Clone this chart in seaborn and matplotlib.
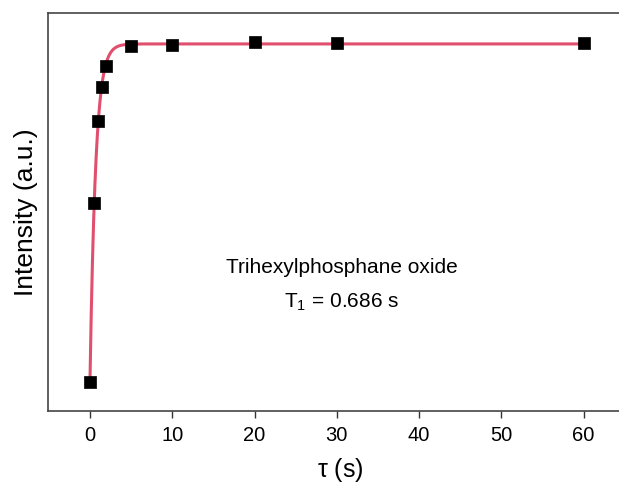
import numpy as np
import pandas as pd
import matplotlib
matplotlib.use("Agg")
import matplotlib.pyplot as plt
import seaborn as sns

# Inversion-recovery delays (s) and measured intensities (a.u.)
tau = [0, 0.5, 1, 1.5, 2, 5, 10, 20, 30, 60]
intensity = [-1.0, 0.057, 0.546, 0.747, 0.870, 0.988, 0.996, 1.012, 1.006, 1.004]

# Fitted recovery: I = A * (1 - B * exp(-tau / T1))
T1 = 0.686
A_fit = 1.0
B_fit = 2.0

sns.set_theme(style="ticks")
plt.rcParams["font.family"] = ["Liberation Sans", "DejaVu Sans"]
plt.rcParams["mathtext.fontset"] = "custom"
plt.rcParams["mathtext.rm"] = "Liberation Sans"
plt.rcParams["mathtext.it"] = "Liberation Sans:italic"
plt.rcParams["text.color"] = "black"
plt.rcParams["axes.labelcolor"] = "black"
plt.rcParams["xtick.color"] = "black"

fig = plt.figure(figsize=(6.19, 4.84), dpi=100)
ax = fig.add_axes([48 / 619, 73 / 484, 585 / 619, 398 / 484])

t_fit = np.linspace(0, 60, 2000)
fit_df = pd.DataFrame({"tau": t_fit, "I": A_fit * (1 - B_fit * np.exp(-t_fit / T1))})
data_df = pd.DataFrame({"tau": tau, "I": intensity})

sns.lineplot(data=fit_df, x="tau", y="I", ax=ax, color="#e0506e", linewidth=2.2, zorder=2)
sns.scatterplot(data=data_df, x="tau", y="I", ax=ax, marker="s", s=80,
                color="black", edgecolor="black", linewidth=0.5, zorder=3)

ax.set_xlim(-5.1, 66)
ax.set_ylim(-1.172, 1.183)
ax.set_xticks([0, 10, 20, 30, 40, 50, 60])
ax.set_yticks([])
ax.tick_params(axis="x", labelsize=14.5, length=5, width=1, color="#333333", pad=6)

for side in ["left", "bottom", "top"]:
    ax.spines[side].set_linewidth(1.2)
    ax.spines[side].set_color("#444444")
ax.spines["right"].set_visible(False)

ax.set_xlabel(r"$\mathrm{\tau}$ (s)", fontsize=18, labelpad=8)
ax.set_ylabel("Intensity (a.u.)", fontsize=19, labelpad=7)

ax.text(30.6, -0.325, "Trihexylphosphane oxide", fontsize=15, ha="center", va="center")
ax.text(30.6, -0.53, r"T$_1$ = 0.686 s", fontsize=15, ha="center", va="center")

fig.savefig("out.png", dpi=100)
